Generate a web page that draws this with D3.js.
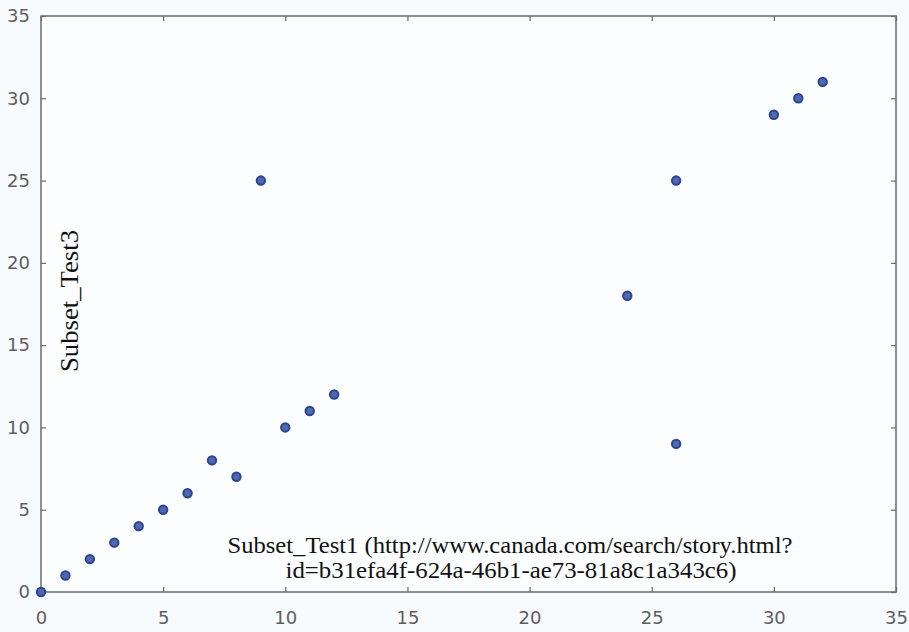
<!DOCTYPE html>
<html>
<head>
<meta charset="utf-8">
<script src="https://cdn.jsdelivr.net/npm/d3@7"></script>
<style>
  html, body { margin: 0; padding: 0; background: #f8fbfd; }
  svg { display: block; }
</style>
</head>
<body>
<svg id="chart" width="909" height="632"></svg>
<script>
// Scatter of Subset_Test1 against Subset_Test3
const xValues = [0, 1, 2, 3, 4, 5, 6, 7, 8, 9, 10, 11, 12, 24, 26, 26, 30, 31, 32];
const yValues = [0, 1, 2, 3, 4, 5, 6, 8, 7, 25, 10, 11, 12, 18, 25, 9, 29, 30, 31];
const xTicks = [0, 5, 10, 15, 20, 25, 30, 35];
const yTicks = [0, 5, 10, 15, 20, 25, 30, 35];
const xLabelLines = ["Subset_Test1 (http://www.canada.com/search/story.html?",
                     "id=b31efa4f-624a-46b1-ae73-81a8c1a343c6)"];
const yLabel = "Subset_Test3";

const svg = d3.select("#chart");
const plotLeft = 41, plotRight = 896, plotTop = 16, plotBottom = 592;

const x = d3.scaleLinear().domain([0, 35]).range([plotLeft, plotRight]);
const y = d3.scaleLinear().domain([0, 35]).range([plotBottom, plotTop]);

const axisColor = "#6b6b6b";
const tickTextColor = "#5e5e5e";
const tickFont = "DejaVu Sans, sans-serif";

// plot area
svg.append("rect")
  .attr("x", plotLeft).attr("y", plotTop)
  .attr("width", plotRight - plotLeft).attr("height", plotBottom - plotTop)
  .attr("fill", "#fbfdfe")
  .attr("stroke", axisColor).attr("stroke-width", 1.5);

function styleAxis(g, showLabels) {
  g.select(".domain").remove();
  g.selectAll(".tick line").attr("stroke", axisColor).attr("stroke-width", 1.2);
  g.selectAll(".tick text")
    .attr("fill", tickTextColor)
    .style("font-family", tickFont)
    .style("font-size", "18px");
  if (!showLabels) g.selectAll(".tick text").remove();
}

// bottom axis with labels
svg.append("g").attr("transform", `translate(0,${plotBottom})`)
  .call(d3.axisBottom(x).tickValues(xTicks).tickSize(-5).tickPadding(19).tickFormat(d3.format("d")))
  .call(g => styleAxis(g, true));
// top axis ticks
svg.append("g").attr("transform", `translate(0,${plotTop})`)
  .call(d3.axisTop(x).tickValues(xTicks).tickSize(-5))
  .call(g => styleAxis(g, false));
// left axis with labels
svg.append("g").attr("transform", `translate(${plotLeft},0)`)
  .call(d3.axisLeft(y).tickValues(yTicks).tickSize(-5).tickPadding(11).tickFormat(d3.format("d")))
  .call(g => styleAxis(g, true));
// right axis ticks
svg.append("g").attr("transform", `translate(${plotRight},0)`)
  .call(d3.axisRight(y).tickValues(yTicks).tickSize(-5))
  .call(g => styleAxis(g, false));

// points
const points = xValues.map((v, i) => ({ x: v, y: yValues[i] }));
svg.append("g").selectAll("circle")
  .data(points)
  .enter().append("circle")
  .attr("cx", d => x(d.x))
  .attr("cy", d => y(d.y))
  .attr("r", 4.2)
  .attr("fill", "#4f69b0")
  .attr("stroke", "#2b4490")
  .attr("stroke-width", 2);

// axis titles
const labelFont = "Liberation Serif, Times New Roman, serif";
const xLab = svg.append("text")
  .attr("text-anchor", "middle")
  .attr("fill", "#111")
  .style("font-family", labelFont)
  .style("font-size", "24px");
xLab.append("tspan").attr("x", 510).attr("y", 553)
  .attr("textLength", 565).attr("lengthAdjust", "spacingAndGlyphs")
  .text(xLabelLines[0]);
xLab.append("tspan").attr("x", 511).attr("y", 578)
  .attr("textLength", 451).attr("lengthAdjust", "spacingAndGlyphs")
  .text(xLabelLines[1]);

svg.append("text")
  .attr("transform", "translate(78,301) rotate(-90)")
  .attr("text-anchor", "middle")
  .attr("fill", "#111")
  .style("font-family", labelFont)
  .style("font-size", "25px")
  .attr("textLength", 142).attr("lengthAdjust", "spacingAndGlyphs")
  .text(yLabel);
</script>
</body>
</html>
